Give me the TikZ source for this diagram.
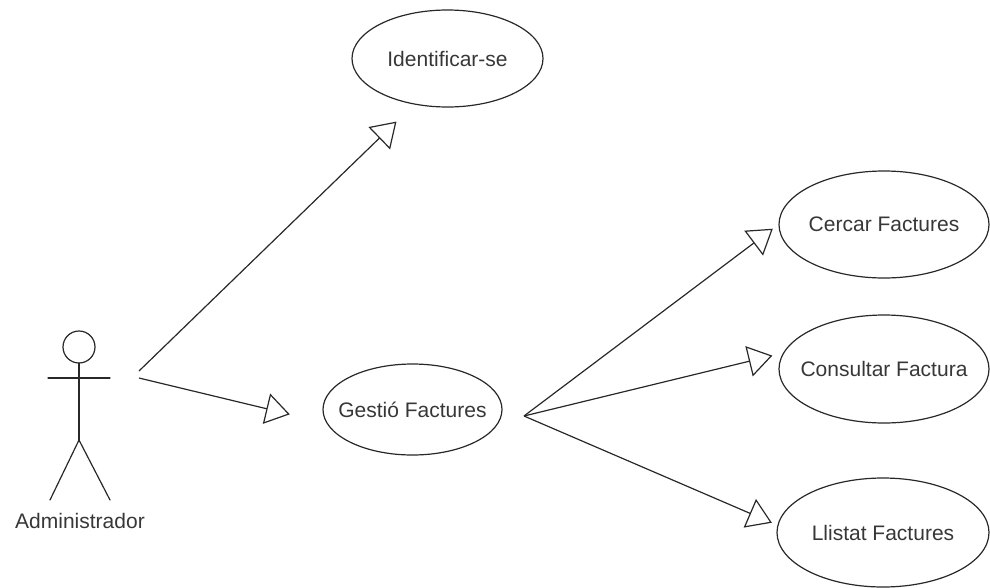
\documentclass[tikz,border=0pt]{standalone}
\usepackage{fontspec}
\setmainfont{Liberation Sans}
\usetikzlibrary{shapes.geometric,arrows.meta}
\tikzset{
  uml/.style={
    line width=1.2pt,
    draw=linegray
  },
  usecase/.style={
    uml,
    ellipse,
    text=textgray,
    font=\fontsize{21}{25}\selectfont,
    inner sep=0pt
  },
  actor-line/.style={uml, line cap=round},
  actor-label/.style={text=textgray, font=\fontsize{21}{25}\selectfont, inner sep=0pt},
  assoc/.style={uml, -{Triangle[open, length=24pt, width=31pt]}}
}
\definecolor{linegray}{RGB}{40,40,40}
\definecolor{textgray}{RGB}{55,55,55}
\newcommand{\pageframe}{
  \useasboundingbox (0,0) rectangle (990,587);
}
\newcommand{\uclabel}[1]{\makebox[0pt]{#1}}

\begin{document}
\begin{tikzpicture}[x=1pt,y=-1pt]
  \pageframe

  % Use cases
  \node[usecase, minimum width=191pt, minimum height=97pt] (ident) at (447.5,58.5) {\uclabel{Identificar-se}};
  \node[usecase, minimum width=179pt, minimum height=91pt] (gestio) at (412.5,409.5) {\uclabel{Gestió Factures}};
  \node[usecase, minimum width=210pt, minimum height=107pt] (cercar) at (884,224.5) {\uclabel{Cercar Factures}};
  \node[usecase, minimum width=210pt, minimum height=108pt] (consultar) at (884,369) {\uclabel{Consultar Factura}};
  \node[usecase, minimum width=212pt, minimum height=109pt] (llistat) at (883,532.5) {\uclabel{Llistat Factures}};

  % Actor
  \draw[actor-line] (79,347) circle (16);
  \draw[actor-line] (79,363) -- (79,440);   % body
  \draw[actor-line] (48,378) -- (110,378);  % arms
  \draw[actor-line] (50,500) -- (79,440) -- (110,500);  % legs
  \node[actor-label] (admin) at (80,521) {Administrador};

  \coordinate (admin-up) at (139,371);
  \coordinate (admin-right) at (139,378);
  \coordinate (gestio-out) at (524,416);

  % Associations
  \draw[assoc, shorten >=24.5pt] (admin-up) -- (ident.234);
  \draw[assoc, shorten >=37.7pt] (admin-right) -- (gestio.189.6);
  \draw[assoc, shorten >=7pt] (gestio-out) -- (cercar.west);
  \draw[assoc, shorten >=11pt] (gestio-out) -- (consultar.171);
  \draw[assoc, shorten >=6pt] (gestio-out) -- (llistat.176);
\end{tikzpicture}
\end{document}
